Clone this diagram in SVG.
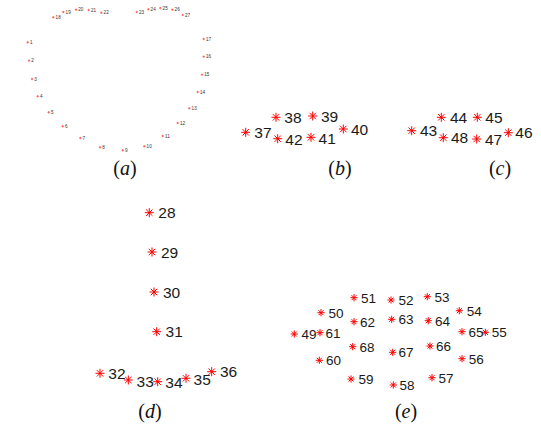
<svg xmlns="http://www.w3.org/2000/svg" xmlns:xlink="http://www.w3.org/1999/xlink" width="541" height="424" viewBox="0 0 541 424">
<style>
.st{stroke:#f00;stroke-width:1;fill:none}
.sa{stroke:#f44;stroke-width:0.8;fill:none}
.t{font-family:"Liberation Sans",Arial,sans-serif;fill:#1a1a1a}
.tb{font-size:15.5px}
.te{font-size:13.5px}
.ta{font-size:4.6px;fill:#333}
.cap{font-family:"Liberation Serif","Times New Roman",serif;font-size:20px;fill:#111;text-anchor:middle}
.cap tspan{font-style:italic}
</style>
<defs>
<path id="sB" d="M-4.5,0H4.5M0,-4.5V4.5M-3.2,-3.2L3.2,3.2M-3.2,3.2L3.2,-3.2"/>
<path id="sE" d="M-3.6,0H3.6M0,-3.6V3.6M-2.5,-2.5L2.5,2.5M-2.5,2.5L2.5,-2.5"/>
<path id="sA" d="M-1.2,0H1.2M0,-1.2V1.2"/>
</defs>
<rect width="541" height="424" fill="#fff"/>

<g id="panel-a">
<g class="sa">
<use href="#sA" x="27.7" y="42.3"/><use href="#sA" x="29" y="60.7"/><use href="#sA" x="32" y="79"/>
<use href="#sA" x="37.7" y="96.3"/><use href="#sA" x="48.7" y="112.3"/><use href="#sA" x="62.7" y="126.3"/>
<use href="#sA" x="80.3" y="138"/><use href="#sA" x="100" y="147.3"/><use href="#sA" x="122.7" y="150.3"/>
<use href="#sA" x="144.3" y="146.3"/><use href="#sA" x="162.7" y="136"/><use href="#sA" x="177.7" y="123"/>
<use href="#sA" x="189.3" y="108.3"/><use href="#sA" x="197.7" y="92"/><use href="#sA" x="202" y="74.7"/>
<use href="#sA" x="203.7" y="56.7"/><use href="#sA" x="203.7" y="39"/>
<use href="#sA" x="53.3" y="17.3"/><use href="#sA" x="63.3" y="12"/><use href="#sA" x="76" y="9.7"/>
<use href="#sA" x="88.7" y="10"/><use href="#sA" x="101.3" y="12.7"/>
<use href="#sA" x="136.7" y="12"/><use href="#sA" x="148.3" y="9.3"/><use href="#sA" x="160.3" y="8"/>
<use href="#sA" x="172.3" y="9.7"/><use href="#sA" x="182.7" y="15"/>
</g>
<g class="t ta">
<text x="30" y="44">1</text><text x="31.3" y="62.4">2</text><text x="34.3" y="80.7">3</text>
<text x="40" y="98">4</text><text x="51" y="114">5</text><text x="65" y="128">6</text>
<text x="82.6" y="139.7">7</text><text x="102.3" y="149">8</text><text x="125" y="152">9</text>
<text x="146.6" y="148">10</text><text x="165" y="137.7">11</text><text x="180" y="124.7">12</text>
<text x="191.6" y="110">13</text><text x="200" y="93.7">14</text><text x="204.3" y="76.4">15</text>
<text x="206" y="58.4">16</text><text x="206" y="40.7">17</text>
<text x="55.6" y="19">18</text><text x="65.6" y="13.7">19</text><text x="78.3" y="11.4">20</text>
<text x="91" y="11.7">21</text><text x="103.6" y="14.4">22</text>
<text x="139" y="13.7">23</text><text x="150.6" y="11">24</text><text x="162.6" y="9.7">25</text>
<text x="174.6" y="11.4">26</text><text x="185" y="16.7">27</text>
</g>
</g>

<g id="panel-b">
<g class="st">
<use href="#sB" x="245.7" y="132.3"/><use href="#sB" x="276" y="117.3"/><use href="#sB" x="312.7" y="116"/>
<use href="#sB" x="343.3" y="129"/><use href="#sB" x="311" y="137.3"/><use href="#sB" x="277.7" y="138.7"/>
</g>
<g class="t tb">
<text x="254.3" y="138">37</text><text x="284.3" y="123">38</text><text x="321" y="121.7">39</text>
<text x="351" y="134.7">40</text><text x="318.6" y="143.5">41</text><text x="285.3" y="145">42</text>
</g>
</g>

<g id="panel-c">
<g class="st">
<use href="#sB" x="411.7" y="130.7"/><use href="#sB" x="441.3" y="117.3"/><use href="#sB" x="477.3" y="117.3"/>
<use href="#sB" x="508.3" y="132.7"/><use href="#sB" x="476.7" y="139"/><use href="#sB" x="443.3" y="137.7"/>
</g>
<g class="t tb">
<text x="420" y="136.3">43</text><text x="450" y="123">44</text><text x="485.3" y="123">45</text>
<text x="515.3" y="138.3">46</text><text x="485" y="144.7">47</text><text x="451" y="143.4">48</text>
</g>
</g>

<g id="panel-d">
<g class="st">
<use href="#sB" x="149.3" y="212.7"/><use href="#sB" x="152" y="252"/><use href="#sB" x="154" y="292"/>
<use href="#sB" x="156.7" y="331.7"/><use href="#sB" x="100" y="373.3"/><use href="#sB" x="128.3" y="380"/>
<use href="#sB" x="157.7" y="381.7"/><use href="#sB" x="186" y="378.3"/><use href="#sB" x="211.7" y="371.7"/>
</g>
<g class="t tb">
<text x="158.3" y="218.3">28</text><text x="161" y="257.6">29</text><text x="163" y="297.6">30</text>
<text x="165.6" y="337.3">31</text><text x="108.3" y="378.9">32</text><text x="136.6" y="387">33</text>
<text x="165.3" y="388.3">34</text><text x="193.6" y="384.5">35</text><text x="220" y="377.3">36</text>
</g>
</g>

<g id="panel-e">
<g class="st">
<use href="#sE" x="294.3" y="334"/><use href="#sE" x="321" y="312.7"/><use href="#sE" x="354" y="297.7"/>
<use href="#sE" x="391" y="300"/><use href="#sE" x="427.3" y="296.7"/><use href="#sE" x="459.3" y="310.7"/>
<use href="#sE" x="485.3" y="332.3"/><use href="#sE" x="462" y="358.7"/><use href="#sE" x="432" y="377.7"/>
<use href="#sE" x="393.3" y="385"/><use href="#sE" x="351" y="379"/><use href="#sE" x="319.3" y="360.3"/>
<use href="#sE" x="320" y="332.7"/><use href="#sE" x="354" y="321.7"/><use href="#sE" x="391.7" y="319.3"/>
<use href="#sE" x="428.3" y="320.7"/><use href="#sE" x="462" y="331.7"/><use href="#sE" x="430" y="346"/>
<use href="#sE" x="392.7" y="352.3"/><use href="#sE" x="352.7" y="346.7"/>
</g>
<g class="t te">
<text x="301.4" y="339">49</text><text x="328.4" y="317.7">50</text><text x="361" y="302.7">51</text>
<text x="398.4" y="305">52</text><text x="434.4" y="301.7">53</text><text x="466.7" y="315.7">54</text>
<text x="491.7" y="337.3">55</text><text x="468.7" y="363.7">56</text><text x="438.4" y="382.7">57</text>
<text x="399.4" y="390">58</text><text x="358.4" y="384">59</text><text x="326" y="365.3">60</text>
<text x="325.4" y="337.7">61</text><text x="360" y="326.7">62</text><text x="398.4" y="324.3">63</text>
<text x="435" y="325.7">64</text><text x="468.4" y="336.7">65</text><text x="436" y="351">66</text>
<text x="398.4" y="357.3">67</text><text x="359.4" y="351.7">68</text>
</g>
</g>

<g id="captions">
<text class="cap" x="125" y="175">(<tspan>a</tspan>)</text>
<text class="cap" x="340" y="175">(<tspan>b</tspan>)</text>
<text class="cap" x="500" y="175">(<tspan>c</tspan>)</text>
<text class="cap" x="150" y="418">(<tspan>d</tspan>)</text>
<text class="cap" x="406" y="418">(<tspan>e</tspan>)</text>
</g>
</svg>
